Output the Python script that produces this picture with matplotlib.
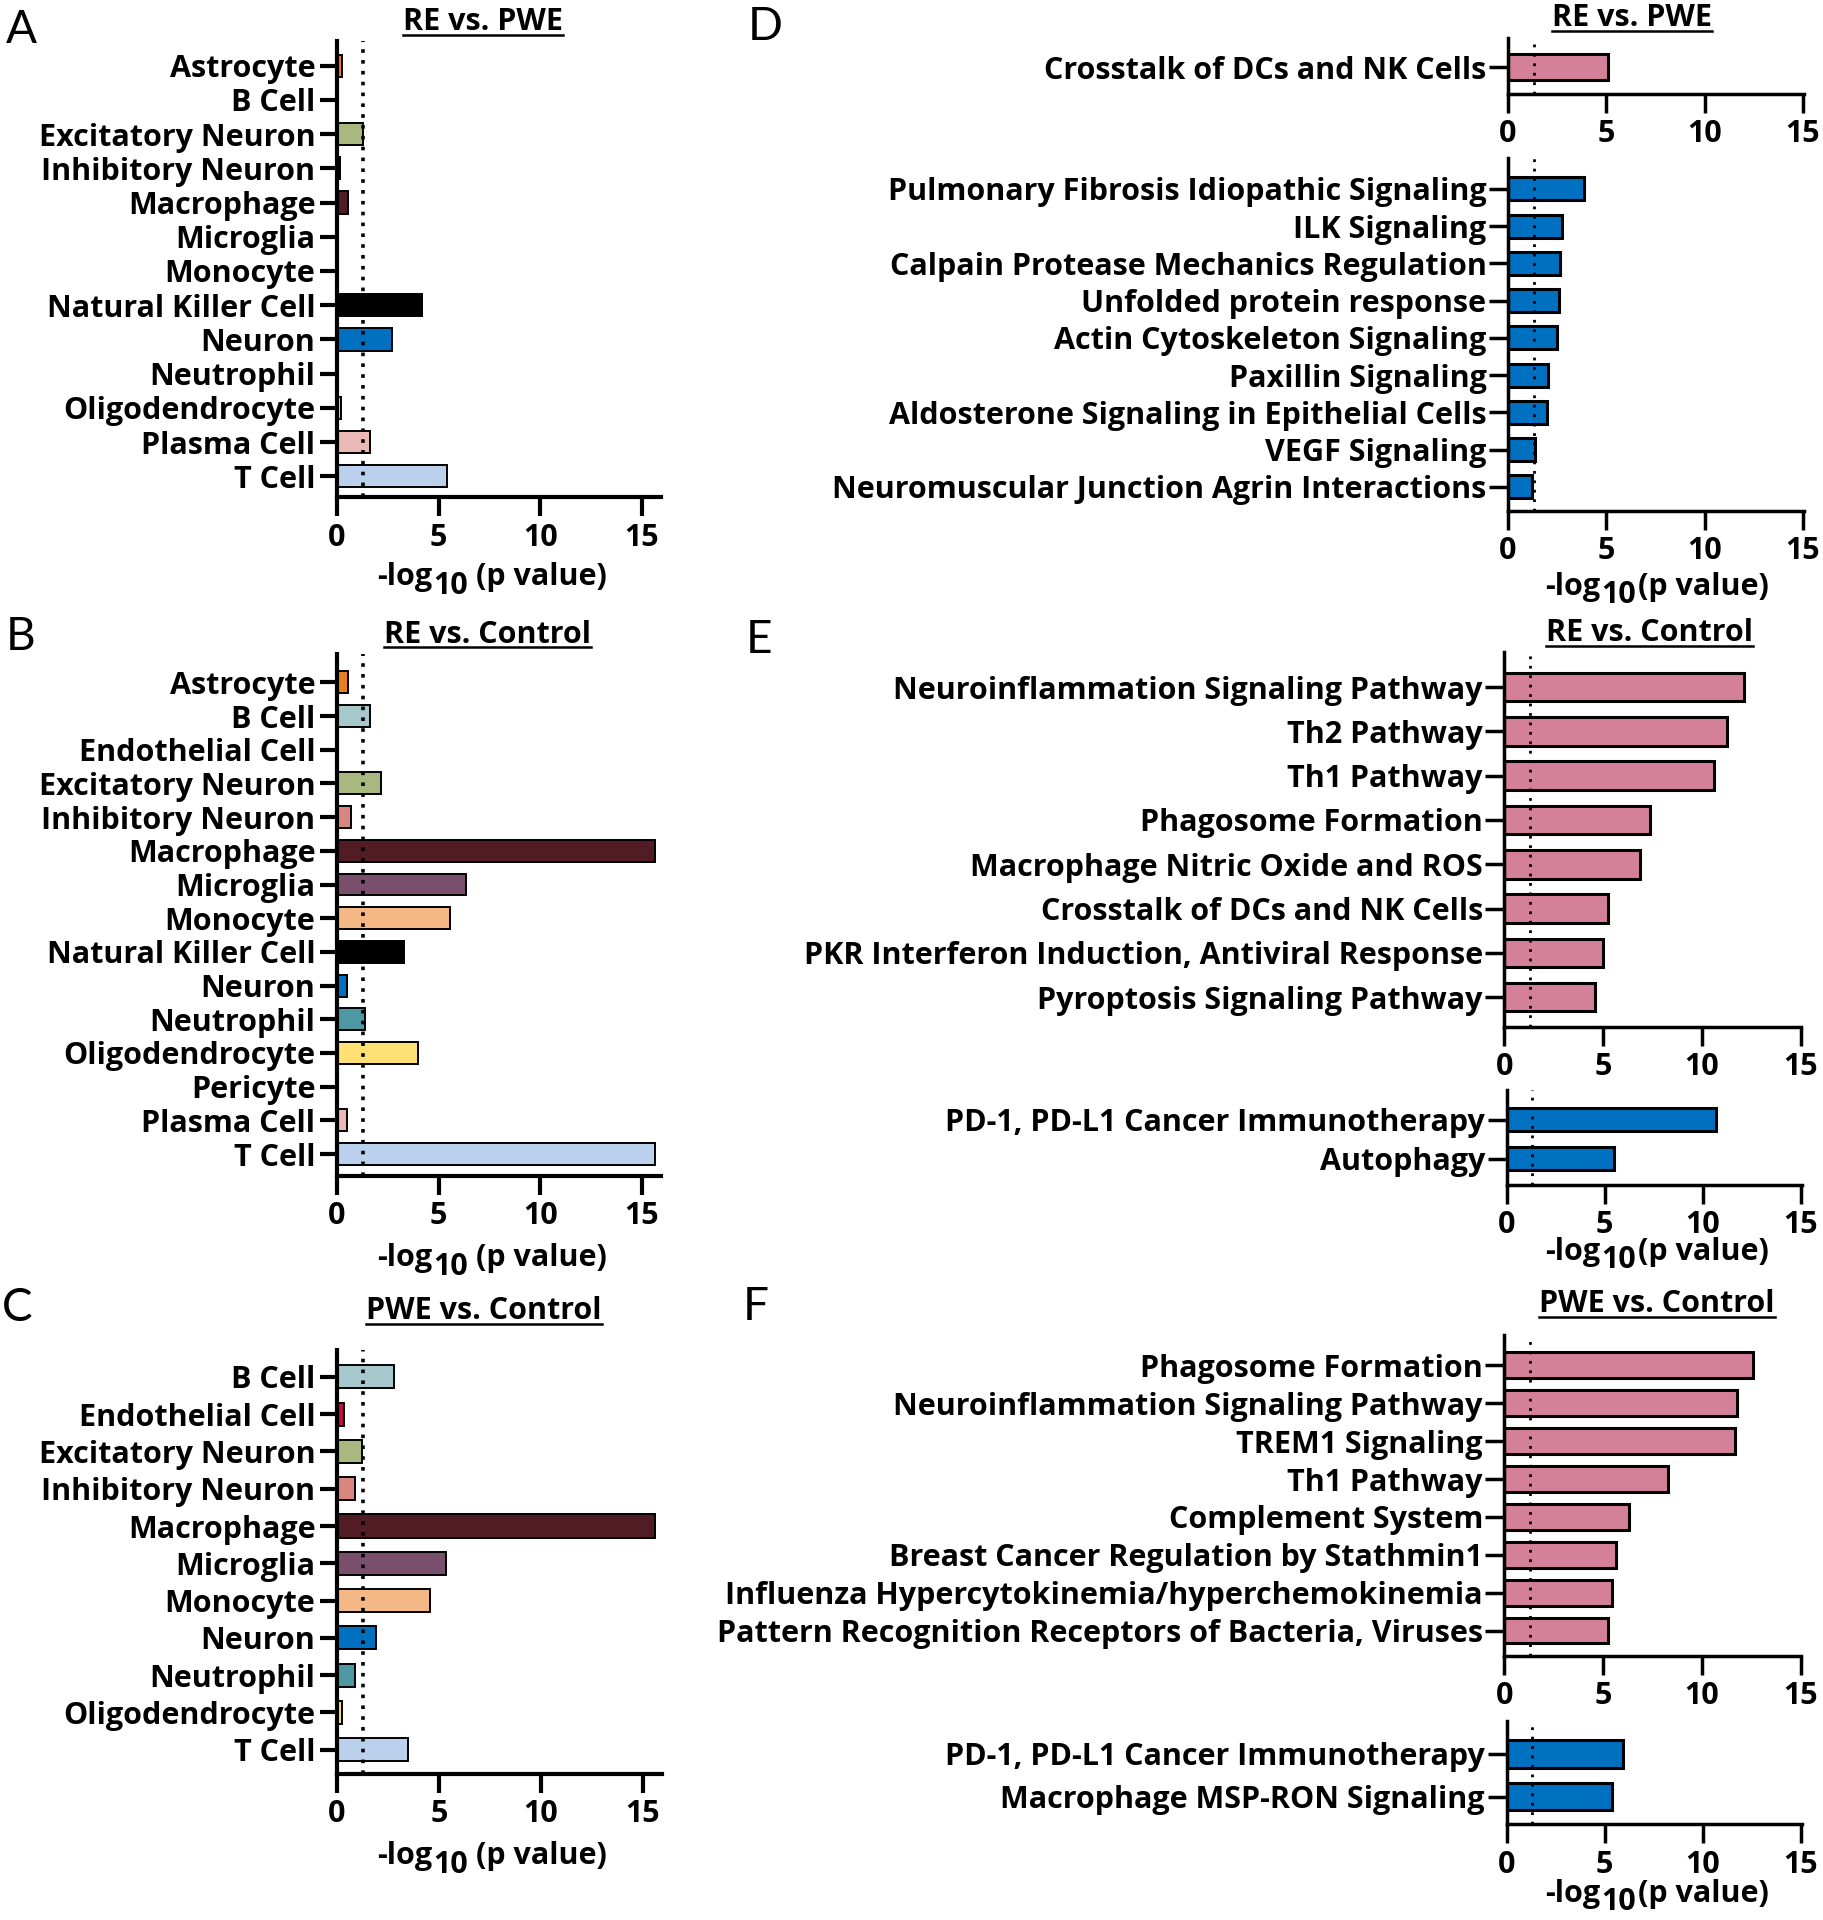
import matplotlib
matplotlib.use('Agg')
import matplotlib.pyplot as plt
from matplotlib.lines import Line2D

W, H = 1824, 1920
plt.rcParams['font.family'] = ['Open Sans', 'DejaVu Sans']
plt.rcParams['font.weight'] = 'bold'

# ---------------- data ----------------
cells_A = ['Astrocyte', 'B Cell', 'Excitatory Neuron', 'Inhibitory Neuron', 'Macrophage',
           'Microglia', 'Monocyte', 'Natural Killer Cell', 'Neuron', 'Neutrophil',
           'Oligodendrocyte', 'Plasma Cell', 'T Cell']
vals_A = [0.25, 0, 1.3, 0.15, 0.55, 0, 0, 4.17, 2.69, 0, 0.2, 1.6, 5.42]

cells_B = ['Astrocyte', 'B Cell', 'Endothelial Cell', 'Excitatory Neuron', 'Inhibitory Neuron',
           'Macrophage', 'Microglia', 'Monocyte', 'Natural Killer Cell', 'Neuron', 'Neutrophil',
           'Oligodendrocyte', 'Pericyte', 'Plasma Cell', 'T Cell']
vals_B = [0.52, 1.6, 0, 2.15, 0.69, 15.66, 6.37, 5.57, 3.31, 0.47, 1.4, 3.98, 0, 0.47, 15.66]

cells_C = ['B Cell', 'Endothelial Cell', 'Excitatory Neuron', 'Inhibitory Neuron', 'Macrophage',
           'Microglia', 'Monocyte', 'Neuron', 'Neutrophil', 'Oligodendrocyte', 'T Cell']
vals_C = [2.8, 0.36, 1.24, 0.86, 15.6, 5.36, 4.54, 1.93, 0.9, 0.24, 3.49]

paths_D_up = ['Crosstalk of DCs and NK Cells']
vals_D_up = [5.09]
paths_D_down = ['Pulmonary Fibrosis Idiopathic Signaling', 'ILK Signaling',
                'Calpain Protease Mechanics Regulation', 'Unfolded protein response',
                'Actin Cytoskeleton Signaling', 'Paxillin Signaling',
                'Aldosterone Signaling in Epithelial Cells', 'VEGF Signaling',
                'Neuromuscular Junction Agrin Interactions']
vals_D_down = [3.84, 2.74, 2.63, 2.6, 2.49, 2.05, 1.98, 1.39, 1.21]

paths_E_up = ['Neuroinflammation Signaling Pathway', 'Th2 Pathway', 'Th1 Pathway',
              'Phagosome Formation', 'Macrophage Nitric Oxide and ROS',
              'Crosstalk of DCs and NK Cells', 'PKR Interferon Induction, Antiviral Response',
              'Pyroptosis Signaling Pathway']
vals_E_up = [12.13, 11.3, 10.6, 7.37, 6.87, 5.27, 4.98, 4.58]
paths_E_down = ['PD-1, PD-L1 Cancer Immunotherapy', 'Autophagy']
vals_E_down = [10.7, 5.5]

paths_F_up = ['Phagosome Formation', 'Neuroinflammation Signaling Pathway', 'TREM1 Signaling',
              'Th1 Pathway', 'Complement System', 'Breast Cancer Regulation by Stathmin1',
              'Influenza Hypercytokinemia/hyperchemokinemia',
              'Pattern Recognition Receptors of Bacteria, Viruses']
vals_F_up = [12.6, 11.8, 11.7, 8.28, 6.32, 5.63, 5.45, 5.23]
paths_F_down = ['PD-1, PD-L1 Cancer Immunotherapy', 'Macrophage MSP-RON Signaling']
vals_F_down = [5.93, 5.39]

xticks = [0, 5, 10, 15]
threshold = 1.3  # -log10(0.05)

cell_colors = {
    'Astrocyte': '#E8801F', 'B Cell': '#A7C9CD', 'Endothelial Cell': '#C0103F',
    'Excitatory Neuron': '#A9B87E', 'Inhibitory Neuron': '#D98680', 'Macrophage': '#521C24',
    'Microglia': '#7A4F6E', 'Monocyte': '#F3B886', 'Natural Killer Cell': '#000000',
    'Neuron': '#0070C0', 'Neutrophil': '#4F97A3', 'Oligodendrocyte': '#FFE074',
    'Pericyte': '#999999', 'Plasma Cell': '#EAB9B5', 'T Cell': '#BBD0EC'}
PINK = '#D5809A'
BLUE = '#0070C0'

FS = 22
fig = plt.figure(figsize=(W / 100, H / 100), dpi=100)


def add_ax(x0, x1, y0, y1):
    return fig.add_axes([x0 / W, 1 - y1 / H, (x1 - x0) / W, (y1 - y0) / H])


def panel(box, cats, vals, colors, ylim, xmax, bar_h, left=True):
    ax = add_ax(*box)
    pos = list(range(len(cats)))
    edge_lw = 1.4 if left else 2.2
    spine_lw = 3.0 if left else 2.5
    ax.barh(pos, vals, height=bar_h, color=colors, edgecolor='black',
            linewidth=edge_lw, zorder=2)
    ax.set_yticks(pos)
    ax.set_yticklabels(cats, fontsize=FS, fontweight='bold')
    ax.set_ylim(*ylim)
    ax.set_xlim(0, xmax)
    ax.set_xticks(xticks)
    ax.set_xticklabels([str(t) for t in xticks], fontsize=FS, fontweight='bold')
    if left:
        ax.axvline(threshold, color='black', linestyle=(0, (1, 2.0)), lw=2.6, zorder=3)
    else:
        ax.axvline(threshold, color='black', linestyle=(0, (1, 2.4)), lw=2.0, zorder=3)
    for s in ['top', 'right']:
        ax.spines[s].set_visible(False)
    for s in ['left', 'bottom']:
        ax.spines[s].set_linewidth(spine_lw)
    ax.tick_params(axis='y', length=12.5 if left else 14, width=spine_lw, pad=3 if left else 1.5)
    ax.tick_params(axis='x', length=13.7, width=spine_lw, pad=4.5)
    ax.set_facecolor('none')
    return ax


def xlabel(ax, x_left, baseline, drop=9, gap1=1, gap2=6):
    t1 = fig.text(x_left / W, 1 - baseline / H, '-log', ha='left', va='baseline',
                  fontsize=FS, fontweight='bold')
    t2 = ax.annotate('10', xy=(1, H - baseline - drop), xycoords=(t1, 'figure pixels'),
                     xytext=(gap1, 0), textcoords='offset pixels', ha='left', va='baseline',
                     fontsize=FS, fontweight='bold', annotation_clip=False)
    ax.annotate('(p value)', xy=(1, H - baseline), xycoords=(t2, 'figure pixels'),
                xytext=(gap2, 0), textcoords='offset pixels', ha='left', va='baseline',
                fontsize=FS, fontweight='bold', annotation_clip=False)


titles = []


def title(text, xc, baseline):
    t = fig.text(xc / W, 1 - baseline / H, text, ha='center', va='baseline',
                 fontsize=FS, fontweight='bold')
    titles.append((t, baseline + 4.5))


def letter(text, x, baseline):
    fig.text(x / W, 1 - baseline / H, text, ha='left', va='baseline', fontsize=33,
             fontweight='normal', family=['Lato', 'DejaVu Sans'])


# ---------------- left column ----------------
axA = panel((337, 661, 41, 497.5), cells_A, vals_A, [cell_colors[c] for c in cells_A],
            (12.62, -0.72), 15.95, 0.65)
axB = panel((337, 661, 654, 1176), cells_B, vals_B, [cell_colors[c] for c in cells_B],
            (14.65, -0.84), 15.95, 0.65)
axC = panel((337, 662, 1350, 1774), cells_C, vals_C, [cell_colors[c] for c in cells_C],
            (10.65, -0.72), 15.95, 0.62)
xlabel(axA, 377, 585.5, gap2=8)
xlabel(axB, 377, 1266, gap2=8)
xlabel(axC, 377, 1864, gap2=8)
title('RE vs. PWE', 483, 30)
title('RE vs. Control', 488, 643)
title('PWE vs. Control', 484, 1319)
letter('A', 6, 43)
letter('B', 6, 650)
letter('C', 2, 1321)

# ---------------- right column ----------------
axD1 = panel((1508, 1804, 37.6, 93.7), paths_D_up, vals_D_up, [PINK] * len(vals_D_up),
             (0.71, -0.79), 15.05, 0.69, left=False)
axD2 = panel((1508, 1804, 158, 511), paths_D_down, vals_D_down, [BLUE] * len(vals_D_down),
             (8.65, -0.83), 15.05, 0.62, left=False)
axE1 = panel((1504.5, 1801.5, 652, 1027), paths_E_up, vals_E_up, [PINK] * len(vals_E_up),
             (7.67, -0.79), 15.05, 0.64, left=False)
axE2 = panel((1506.5, 1801.5, 1090, 1184.6), paths_E_down, vals_E_down, [BLUE] * len(vals_E_down),
             (1.67, -0.76), 15.05, 0.59, left=False)
axF1 = panel((1504.5, 1801.5, 1335, 1655.6), paths_F_up, vals_F_up, [PINK] * len(vals_F_up),
             (7.66, -0.8), 15.05, 0.68, left=False)
axF2 = panel((1506.5, 1801.5, 1720.7, 1824.3), paths_F_down, vals_F_down, [BLUE] * len(vals_F_down),
             (1.65, -0.78), 15.05, 0.65, left=False)
xlabel(axD2, 1545, 595, drop=8, gap2=2)
xlabel(axE2, 1545, 1260, drop=8, gap2=2)
xlabel(axF2, 1545, 1902, drop=8, gap2=2)
title('RE vs. PWE', 1632, 26)
title('RE vs. Control', 1650, 641)
title('PWE vs. Control', 1657, 1312)
letter('D', 748, 40)
letter('E', 746, 653)
letter('F', 743, 1320)

# underline titles
fig.canvas.draw()
renderer = fig.canvas.get_renderer()
for t, yline in titles:
    bb = t.get_window_extent(renderer)
    fig.add_artist(Line2D([bb.x0 / W, bb.x1 / W], [1 - yline / H, 1 - yline / H],
                          transform=fig.transFigure, color='black', lw=1.8))

fig.savefig('out.png', dpi=100, facecolor='white')
